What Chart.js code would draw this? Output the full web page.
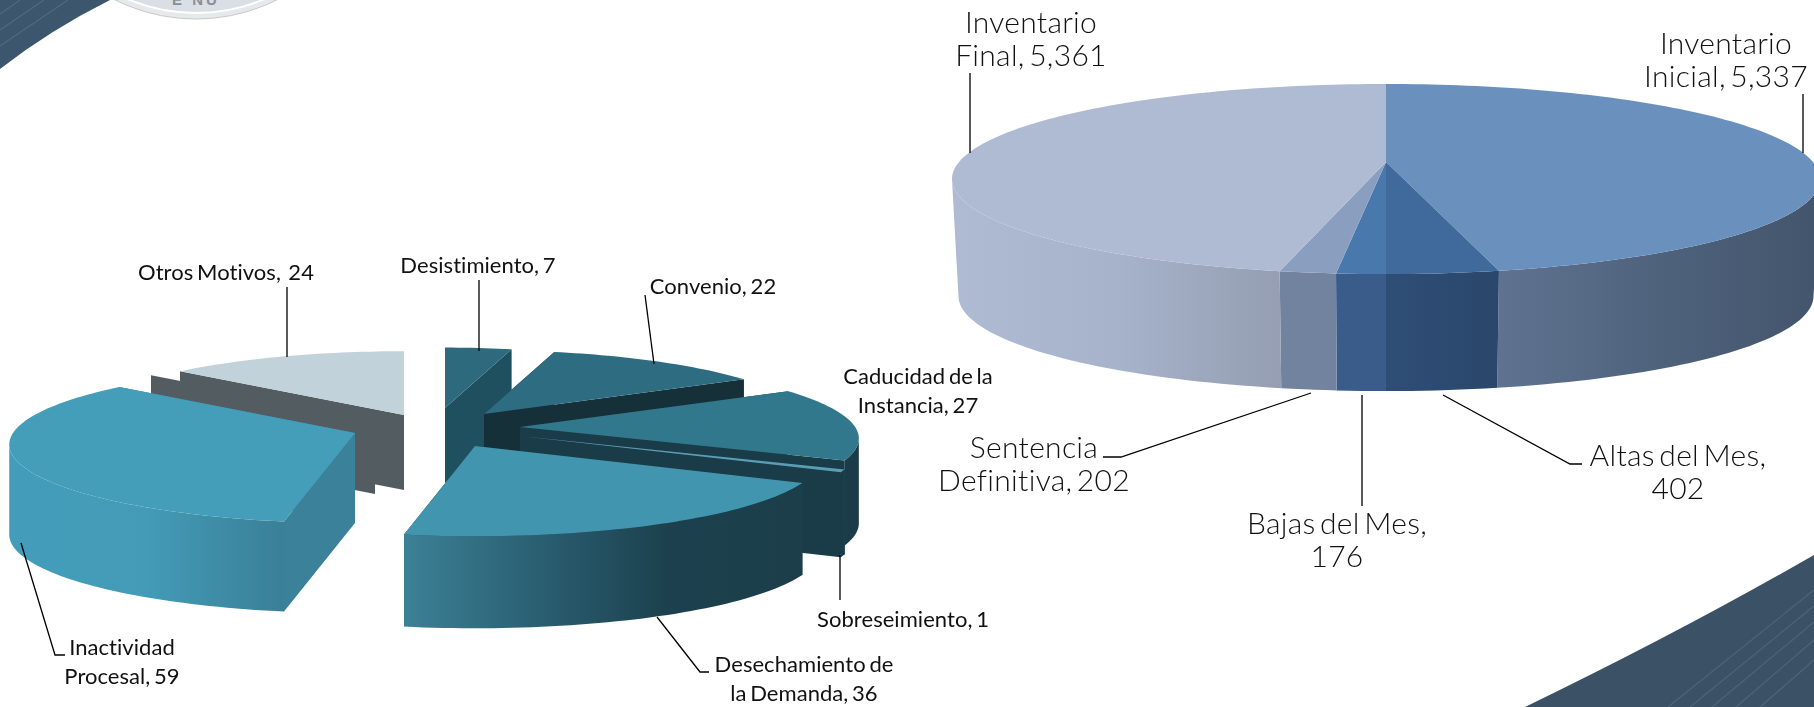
<!DOCTYPE html>
<html>
<head>
<meta charset="utf-8">
<title>Asuntos</title>
<script src="https://cdn.jsdelivr.net/npm/chart.js@4"></script>
<style>
    html, body { margin: 0; background: #fff; overflow: hidden; }
    #wrap { position: relative; width: 1814px; height: 707px; }
    #wrap svg, #wrap canvas { position: absolute; left: 0; top: 0; }
</style>
</head>
<body>
<div id="wrap">
    <!-- esquinas de la plantilla -->
    <svg width="1814" height="707">
        <path d="M0,0 L110,0 Q50,30 0,69 Z" fill="#3b566d"/>
        <g stroke="#506a80" stroke-width="1.2">
            <line x1="0" y1="14" x2="20" y2="0"/>
            <line x1="0" y1="30" x2="44" y2="0"/>
            <line x1="0" y1="46" x2="68" y2="0"/>
        </g>
        <circle cx="196" cy="-163" r="182" fill="#e6e9ec" stroke="#c9c9c4" stroke-width="1"/>
        <circle cx="196" cy="-163" r="176" fill="#d9dfe5" stroke="#fff" stroke-width="2"/>
        <text x="196" y="5" text-anchor="middle" font-family="Liberation Sans" font-weight="bold" font-size="15" letter-spacing="3" fill="#8b8f94">E NU</text>
        <path d="M1525,707 Q1680,632 1814,555 L1814,707 Z" fill="#3b5266"/>
        <g stroke="#4f6476" stroke-width="1.2">
            <line x1="1668" y1="707" x2="1814" y2="590"/>
            <line x1="1690" y1="707" x2="1814" y2="606"/>
            <line x1="1712" y1="707" x2="1814" y2="622"/>
            <line x1="1736" y1="707" x2="1814" y2="640"/>
            <line x1="1760" y1="707" x2="1814" y2="660"/>
        </g>
    </svg>
    <canvas id="leftPie" width="1814" height="707"></canvas>
    <canvas id="rightPie" width="1814" height="707"></canvas>
</div>
<script>
// datos, pastel izquierdo
const leftCategories = ["Desistimiento", "Convenio", "Caducidad de la Instancia", "Sobreseimiento", "Desechamiento de la Demanda", "Inactividad Procesal", "Otros Motivos"];
const leftValues = [7, 22, 27, 1, 36, 59, 24];
const leftLabels = [["Desistimiento, 7"], ["Convenio, 22"], ["Caducidad de la", "Instancia, 27"], ["Sobreseimiento, 1"], ["Desechamiento de", "la Demanda, 36"], ["Inactividad", "Procesal, 59"], ["Otros Motivos,  24"]];

// datos, pastel derecho
const rightCategories = ["Inventario Inicial", "Altas del Mes", "Bajas del Mes", "Sentencia Definitiva", "Inventario Final"];
const rightValues = [5337, 402, 176, 202, 5361];
const rightLabels = [["Inventario", "Inicial, 5,337"], ["Altas del Mes,", "402"], ["Bajas del Mes,", "176"], ["Sentencia", "Definitiva, 202"], ["Inventario", "Final, 5,361"]];

// estilo y posicion de cada rebanada (no son datos)
const leftStyle = {
    font: "400 22px Lato",
    spacing: "0.05px",
    wordGap: "-2px",
    lineGap: 29,
    persp: { a: 77, c: -0.147, d: 342, narrow: 1 },
    apex: [[445, 408], [484, 414], [520, 427], [520, 436], [475, 446], [355, 433], [404, 415]],
    scale: [0.9, 0.95, 0.98, 0.98, 1, 1, 0.95],
    depth: [75, 80, 85, 85, 92, 90, 75],
    top: ["#2e6a7e", "#2e6c82", "#32788c", "#5b9db5", "#4295af", "#449eb9", "#c1d2da"],
    wall: [["#1f5060"], ["#153038"], ["#1a3b48"], ["#1a3b48"], ["#3c8197", "#2a5f72", "#1c404d", "#1c3e4b"], ["#439dba", "#439bb7", "#3a7f97"], ["#535c60"]],
    cut: ["#1f5060", "#153038", "#1a3b48", "#1a3b48", "#1c3e4b", "#3a8199", "#535c60"],
    ghost: [null, null, null, null, null, null, [-29, 4]],
    order: [6, 0, 1, 2, 3, 5, 4],
    labelPos: [[478, 266], [713, 287], [918, 377], [903, 620], [804, 665], [122, 648], [226, 273]],
    leaders: [
        [[479, 280], [479, 351]],
        [[645, 295], [654, 364]],
        [[840, 555], [840, 600]],
        [[657, 617], [700, 672], [709, 672]],
        [[21, 543], [55, 655], [65, 655]],
        [[287, 287], [287, 357]]
    ]
};
const rightStyle = {
    font: "300 30px Lato",
    spacing: "0.3px",
    wordGap: "-4px",
    lineGap: 33,
    persp: { a: 92, c: -0.179, d: 427, narrow: 0.985 },
    apex: [[1386, 162], [1386, 162], [1386, 162], [1386, 162], [1386, 162]],
    scale: [1, 1, 1, 1, 1],
    depth: [117, 117, 117, 117, 117],
    top: ["#6a90bd", "#40699c", "#4878ac", "#8a9fc0", "#aebbd3"],
    wall: [["#5f7391", "#4f627c", "#43556c"], ["#2f4e76", "#2a466b"], ["#3a5c8a", "#3a5c8a"], ["#72839f", "#72839f"], ["#aebbd2", "#a6b3ca", "#959eb2"]],
    cut: [null, null, null, null, null],
    ghost: [null, null, null, null, null],
    order: [0, 1, 2, 3, 4],
    labelPos: [[1726, 44], [1678, 456], [1337, 524], [1034, 448], [1031, 23]],
    leaders: [
        [[1803, 94], [1803, 153]],
        [[1443, 395], [1570, 464], [1582, 464]],
        [[1362, 395], [1362, 506]],
        [[1311, 393], [1121, 457], [1103, 457]],
        [[970, 73], [970, 153]]
    ]
};

// circulo -> elipse en perspectiva, el angulo viene del elemento arc de Chart.js
function project(style, i, angle, drop) {
    const p = style.persp;
    const s = style.scale[i];
    const u = Math.cos(angle);
    const v = Math.sin(angle);
    const w = 1 + p.c * v;
    const k = drop ? p.narrow : 1;
    return {
        x: style.apex[i][0] + s * k * p.d * u / w,
        y: style.apex[i][1] + s * p.a * v / w + (drop || 0)
    };
}

function fillPoly(ctx, pts, color) {
    ctx.beginPath();
    pts.forEach((pt, n) => n ? ctx.lineTo(pt.x, pt.y) : ctx.moveTo(pt.x, pt.y));
    ctx.closePath();
    ctx.fillStyle = color;
    ctx.fill();
}

function drawCut(ctx, style, i, angle, dx, dy) {
    const ax = style.apex[i][0] + dx;
    const ay = style.apex[i][1] + dy;
    const e = project(style, i, angle, 0);
    const depth = style.depth[i];
    const ex = e.x + dx;
    const ey = e.y + dy;
    fillPoly(ctx, [{ x: ax, y: ay }, { x: ex, y: ey }, { x: ex, y: ey + depth }, { x: ax, y: ay + depth }], style.cut[i]);
}

function drawSlice(ctx, style, arc, i) {
    const start = arc.startAngle;
    const end = arc.endAngle;
    const steps = Math.max(4, Math.ceil((end - start) * 40));
    const angles = [];
    for (let n = 0; n <= steps; n++) angles.push(start + (end - start) * n / steps);

    if (style.cut[i]) {
        if (style.ghost[i]) {
            drawCut(ctx, style, i, start, style.ghost[i][0], style.ghost[i][1]);
            drawCut(ctx, style, i, end, style.ghost[i][0], style.ghost[i][1]);
        }
        drawCut(ctx, style, i, start, 0, 0);
        drawCut(ctx, style, i, end, 0, 0);
    }

    // pared exterior, desde el punto mas ancho de la elipse hacia el frente
    const front = angles.filter(a => Math.sin(a) > -style.persp.c);
    if (front.length > 1) {
        const upper = front.map(a => project(style, i, a, 0));
        const lower = front.map(a => project(style, i, a, style.depth[i]));
        const xs = upper.concat(lower).map(pt => pt.x);
        const x0 = Math.min(...xs);
        const x1 = Math.max(...xs);
        const grad = ctx.createLinearGradient(x0, 0, x1, 0);
        const colors = style.wall[i];
        colors.forEach((c, n) => grad.addColorStop(colors.length > 1 ? n / (colors.length - 1) : 0, c));
        fillPoly(ctx, upper.concat(lower.reverse()), grad);
    }

    // cara superior
    const face = [{ x: style.apex[i][0], y: style.apex[i][1] }].concat(angles.map(a => project(style, i, a, 0)));
    fillPoly(ctx, face, style.top[i]);
}

function pie3d(style, labels) {
    return {
        id: "pie3d",
        beforeDatasetsDraw(chart) {
            const arcs = chart.getDatasetMeta(0).data;
            style.order.forEach(i => drawSlice(chart.ctx, style, arcs[i], i));
            return false;
        },
        afterDraw(chart) {
            const ctx = chart.ctx;
            ctx.save();
            ctx.strokeStyle = "#000";
            ctx.lineWidth = 1.3;
            style.leaders.forEach(line => {
                ctx.beginPath();
                line.forEach((pt, n) => n ? ctx.lineTo(pt[0], pt[1]) : ctx.moveTo(pt[0], pt[1]));
                ctx.stroke();
            });
            ctx.font = style.font;
            ctx.letterSpacing = style.spacing;
            ctx.wordSpacing = style.wordGap;
            ctx.fillStyle = "#111";
            ctx.textAlign = "center";
            ctx.textBaseline = "middle";
            labels.forEach((lines, i) => {
                lines.forEach((txt, n) => {
                    ctx.fillText(txt, style.labelPos[i][0], style.labelPos[i][1] + n * style.lineGap);
                });
            });
            ctx.restore();
        }
    };
}

function makePie(id, categories, values, labels, style) {
    return new Chart(document.getElementById(id), {
        type: "pie",
        data: {
            labels: categories,
            datasets: [{ data: values, backgroundColor: style.top, borderWidth: 0 }]
        },
        options: {
            responsive: false,
            animation: false,
            events: [],
            plugins: { legend: { display: false }, tooltip: { enabled: false } }
        },
        plugins: [pie3d(style, labels)]
    });
}

makePie("leftPie", leftCategories, leftValues, leftLabels, leftStyle);
makePie("rightPie", rightCategories, rightValues, rightLabels, rightStyle);
</script>
</body>
</html>
